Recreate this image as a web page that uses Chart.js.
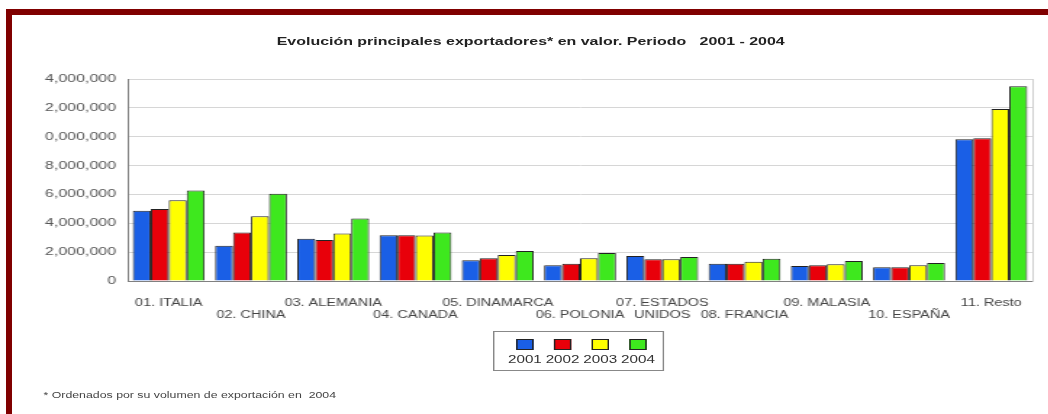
<!DOCTYPE html>
<html lang="es">
<head>
<meta charset="utf-8">
<title>Evolución principales exportadores</title>
<script src="https://cdn.jsdelivr.net/npm/chart.js@4/dist/chart.umd.min.js"></script>
<style>
  html, body { margin: 0; padding: 0; background: #fff; }
  body { width: 1048px; height: 414px; position: relative; overflow: hidden; font-family: Arial, "Liberation Sans", sans-serif; }
  .frame {
    position: absolute; left: 6px; top: 9px; width: 1042px; height: 405px;
    border-top: 6px solid #800000; border-left: 6px solid #800000;
  }
  /* content is laid out narrow and stretched sideways, like the exported report */
  .sheet {
    position: absolute; left: 0; top: 0; width: 723px; height: 414px;
    transform: scaleX(1.45); transform-origin: 0 0;
  }
  .title {
    position: absolute; left: 0; top: 35px; width: 732px; text-align: center;
    font-weight: bold; font-size: 11px; color: #222;
  }
  .plot { position: absolute; left: 0; top: 60px; width: 723px; height: 270px; }
  .legend {
    position: absolute; left: 340px; top: 331px; width: 118px; height: 40px;
    border: 1px solid #888; box-sizing: border-box; padding: 6px 0 0 8px;
    white-space: nowrap;
  }
  .legend .item { display: inline-block; width: 26px; text-align: center; font-size: 10.5px; color: #333; }
  .legend .swatch { display: block; width: 10px; height: 9px; margin: 1px auto 3px; border: 1px solid #222; }
  .note { position: absolute; left: 30px; top: 390px; font-size: 8.5px; color: #444; white-space: nowrap; }
</style>
</head>
<body>
<div class="frame"></div>
<div class="sheet">
  <div class="title">Evolución principales exportadores* en valor. Periodo &nbsp; 2001 - 2004</div>
  <div class="plot"><canvas id="chart"></canvas></div>
  <div class="legend" id="legend"></div>
  <div class="note">* Ordenados por su volumen de exportación en &nbsp;2004</div>
</div>
<script>
// Export value per country, 2001-2004
const countries = [
  ["01. ITALIA"], ["", "02. CHINA"], ["03. ALEMANIA"], ["", "04. CANADA"],
  ["05. DINAMARCA"], ["", "06. POLONIA"], ["07. ESTADOS", "UNIDOS"], ["", "08. FRANCIA"],
  ["09. MALASIA"], ["", "10. ESPAÑA"], ["11. Resto"]
];
const years = ["2001", "2002", "2003", "2004"];
const v2001 = [4870000, 2450000, 2930000, 3170000, 1430000, 1090000, 1730000, 1200000, 1040000, 950000, 9820000];
const v2002 = [4990000, 3370000, 2840000, 3170000, 1570000, 1200000, 1500000, 1200000, 1090000, 950000, 9890000];
const v2003 = [5590000, 4480000, 3300000, 3150000, 1800000, 1570000, 1500000, 1340000, 1160000, 1090000, 11920000];
const v2004 = [6280000, 6050000, 4340000, 3370000, 2080000, 1940000, 1660000, 1550000, 1390000, 1250000, 13490000];
const yTicks = [0, 2000000, 4000000, 6000000, 8000000, 10000000, 12000000, 14000000];

const COLORS = ["#1a5fe6", "#e8000a", "#ffff00", "#3ee81e"];
const FONT = "Arial, 'Liberation Sans', sans-serif";

const series = [v2001, v2002, v2003, v2004];

const chart = new Chart(document.getElementById("chart"), {
  type: "bar",
  data: {
    labels: countries,
    datasets: years.map((y, i) => ({
      label: y,
      data: series[i],
      backgroundColor: COLORS[i],
      borderColor: "#222",
      borderWidth: 1,
      categoryPercentage: 0.874,
      barPercentage: 1.0,
    })),
  },
  options: {
    responsive: true,
    maintainAspectRatio: false,
    animation: false,
    layout: { padding: { left: 0, right: 11, top: 19, bottom: 0 } },
    plugins: { legend: { display: false }, tooltip: { enabled: false } },
    scales: {
      x: {
        grid: { display: false },
        border: { color: "#808080", width: 1 },
        ticks: {
          color: "#444", font: { family: FONT, size: 10 }, padding: 8,
          autoSkip: false, maxRotation: 0, minRotation: 0,
        },
        afterFit: (s) => { s.height = 49; },
      },
      y: {
        min: 0, max: 14000000,
        afterBuildTicks: (s) => { s.ticks = yTicks.map((v) => ({ value: v })); },
        grid: { color: "#d6d6d6", drawTicks: false },
        border: { color: "#808080", width: 1 },
        ticks: {
          color: "#555", font: { family: FONT, size: 11 }, padding: 8,
          // the label column only holds nine characters
          callback: (v) => v.toLocaleString("en-US").slice(-9),
        },
        afterFit: (s) => { s.width = 88; },
      },
      frame: {
        type: "linear", position: "right",
        grid: { display: false },
        border: { color: "#cfcfcf", width: 1 },
        ticks: { display: false },
        afterFit: (s) => { s.width = 0; },
      },
    },
  },
});

// swatches sit above the year labels, so the legend is built by hand
const legend = document.getElementById("legend");
chart.data.datasets.forEach((ds) => {
  const item = document.createElement("span");
  item.className = "item";
  const sw = document.createElement("span");
  sw.className = "swatch";
  sw.style.background = ds.backgroundColor;
  item.appendChild(sw);
  item.appendChild(document.createTextNode(ds.label));
  legend.appendChild(item);
});
</script>
</body>
</html>
